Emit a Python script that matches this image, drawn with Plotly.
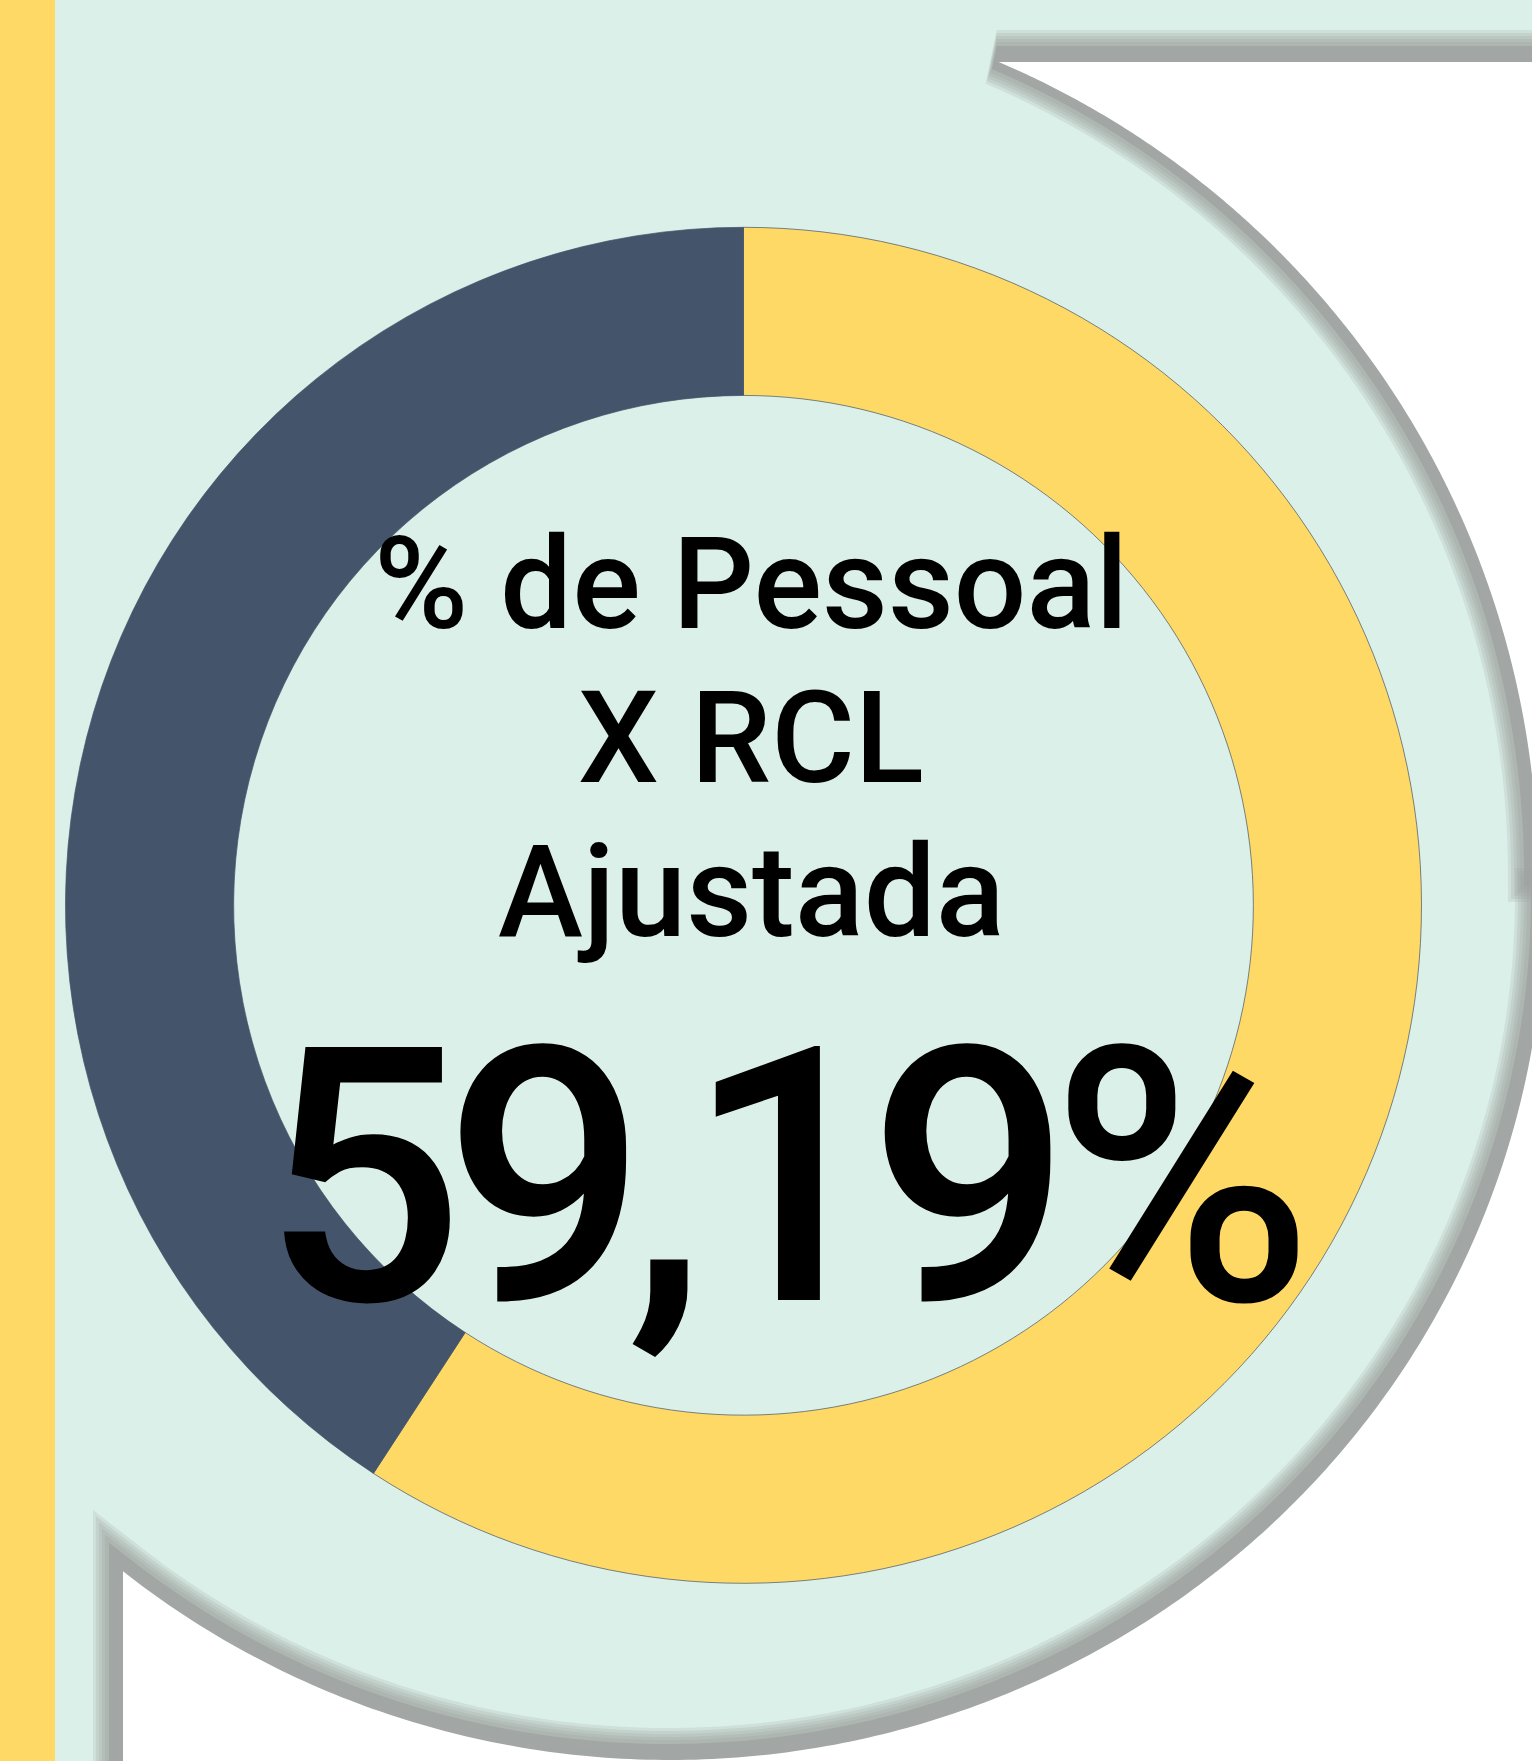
import numpy as np
import plotly.graph_objects as go

W, H = 1532, 1761

# ---- data ----
categories = ["Despesa com Pessoal / RCL Ajustada", "Restante"]
values = [59.19, 40.81]
slice_colors = ["#FFD966", "#44546A"]
title_lines = ["% de Pessoal", "X RCL", "Ajustada"]
value_label = "59,19%"

MINT = "#DAF0E8"
YELLOW = "#FFD966"
SHADOW = "rgb(160,164,162)"


def to_paper(x, y):
    return x / W, 1 - y / H


def path_from(points, close=True):
    parts = []
    for i, (x, y) in enumerate(points):
        X, Y = to_paper(x, y)
        parts.append(("M" if i == 0 else "L") + f"{X:.5f},{Y:.5f}")
    return " ".join(parts) + (" Z" if close else "")


# decorative "p" glyph outline (pixels): upper circle arc + lower elliptical arc
TOP = (651, 878, 887)          # cx, cy, r
BOT = (670, 900, 875, 860)     # cx, cy, rx, ry
top_y, stem_x = 62, 123
a_top = np.arcsin((top_y - TOP[1]) / TOP[2])
a_stem = np.arccos((stem_x - BOT[0]) / BOT[2])


def region_top(dx=0, dy=0):
    t = np.linspace(a_top, 0, 240)
    pts = [(TOP[0] + TOP[2] * np.cos(a) + dx, TOP[1] + TOP[2] * np.sin(a) + dy) for a in t]
    pts += [(1700, TOP[1] + dy), (1700, top_y + dy)]
    return pts


def region_bottom(dx=0, dy=0):
    t = np.linspace(0, a_stem, 240)
    pts = [(BOT[0] + BOT[2] * np.cos(a) + dx, BOT[1] + BOT[3] * np.sin(a) + dy) for a in t]
    pts += [(stem_x + dx, 1900), (1700, 1900), (1700, BOT[1] + dy)]
    return pts


shapes = []
# yellow strip at left
shapes.append(dict(type="rect", xref="paper", yref="paper", x0=0, x1=55 / W, y0=0, y1=1,
                   fillcolor=YELLOW, line=dict(width=0), layer="below"))

# soft shadows
layers = [(28, 0.2), (25, 0.22), (22, 0.22), (19, 0.25), (16, 0.28), (12, 0.85)]
for reg in (region_top, region_bottom):
    p = path_from(reg(-2, -4))
    for hw, a in layers:
        shapes.append(dict(type="path", xref="paper", yref="paper", path=p,
                           fillcolor="rgba(0,0,0,0)",
                           line=dict(color=SHADOW, width=2 * hw), opacity=a, layer="below"))
# white regions
for reg in (region_top, region_bottom):
    shapes.append(dict(type="path", xref="paper", yref="paper", path=path_from(reg()),
                       fillcolor="white", line=dict(width=0), layer="below"))

# donut geometry
pcx, pcy, pr = 743.5, 905.3, 678
x0, y0 = to_paper(pcx - pr, pcy + pr)
x1, y1 = to_paper(pcx + pr, pcy - pr)

fig = go.Figure()
fig.add_trace(go.Pie(
    labels=categories, values=values, hole=0.752, sort=False,
    direction="clockwise", rotation=0, textinfo="none", hoverinfo="label+percent",
    marker=dict(colors=slice_colors, line=dict(color="rgba(68,84,106,0.7)", width=1)),
    domain=dict(x=[x0, x1], y=[y0, y1]), showlegend=False,
))

annotations = []
line_y = [583.5, 738, 892]
for txt, yy in zip(title_lines, line_y):
    annotations.append(dict(text=txt, x=751 / W, y=1 - yy / H, xref="paper", yref="paper",
                            xanchor="center", yanchor="middle", showarrow=False,
                            font=dict(family="Roboto", size=128, color="black", weight=500)))
annotations.append(dict(text=f'<span style="letter-spacing:-20px">{value_label}</span>',
                        x=781 / W, y=1 - 1178 / H, xref="paper", yref="paper",
                        xanchor="center", yanchor="middle", showarrow=False,
                        font=dict(family="Roboto", size=356, color="black", weight=500)))

fig.update_layout(
    width=W, height=H, margin=dict(l=0, r=0, t=0, b=0),
    paper_bgcolor=MINT, plot_bgcolor=MINT,
    shapes=shapes, annotations=annotations, showlegend=False,
)
fig.write_html(
    "out.html",
    config={"displayModeBar": False},
    post_script="document.body.style.margin='0';document.body.style.padding='0';"
                "document.documentElement.style.overflow='hidden';document.body.style.overflow='hidden';",
)
